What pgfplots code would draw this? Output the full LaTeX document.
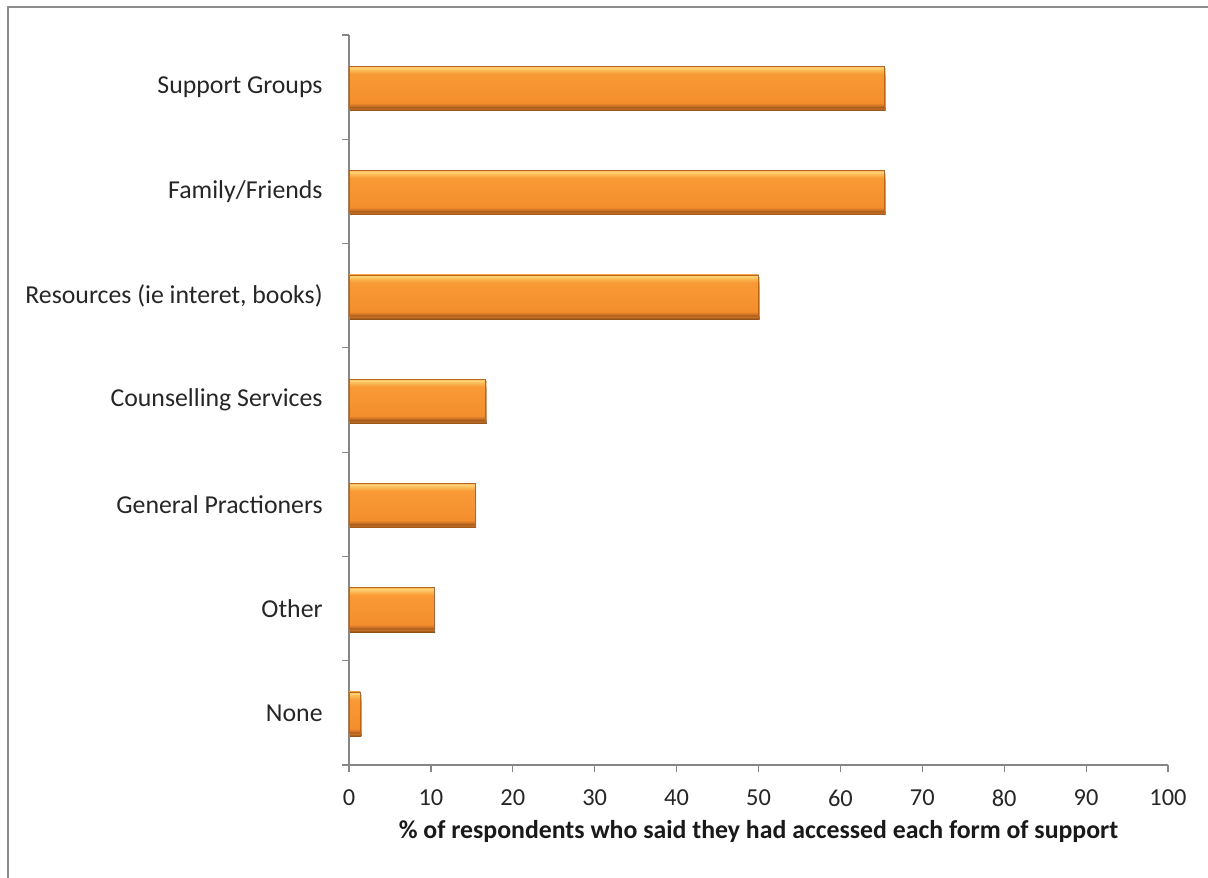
\documentclass[border=0pt]{standalone}
\usepackage{pgfplots}
\pgfplotsset{compat=1.18}
\usepackage{fontspec}
\setmainfont{Carlito}
\definecolor{axgray}{HTML}{868686}
\definecolor{framegray}{HTML}{8C8C8C}
\definecolor{bdark}{HTML}{8E5018}
\definecolor{bdark2}{HTML}{CF7426}
\definecolor{bmid}{HTML}{F48E2D}
\definecolor{bmid2}{HTML}{F89A36}
\definecolor{blight}{HTML}{FBB652}
\definecolor{blight2}{HTML}{FDD477}
\definecolor{bedge}{HTML}{B8651F}
\pgfdeclareverticalshading{barshade}{100bp}{color(0bp)=(bdark); color(25bp)=(bdark); color(28bp)=(bdark2); color(31bp)=(bmid); color(66bp)=(bmid2); color(70bp)=(blight); color(73.5bp)=(blight2); color(75bp)=(blight); color(100bp)=(blight)}
\begin{document}
\begin{tikzpicture}
\path[use as bounding box] (0,0) rectangle (604pt,438.5pt);
\draw[framegray, line width=1pt] (4pt,-10pt) -- (4pt,435pt) -- (615pt,435pt);
\begin{axis}[
  at={(174.5pt,56pt)}, anchor=south west,
  scale only axis, width=409.5pt, height=365pt,
  xmin=0, xmax=100, ymin=-0.5, ymax=6.5,
  xtick={0,10,...,100},
  ytick={-0.5,0.5,...,6.5}, yticklabels={,,,,,,,,},
  extra y ticks={0,1,2,3,4,5,6},
  extra y tick labels={None,Other,General Practioners,Counselling Services,{Resources (ie interet, books)},Family/Friends,Support Groups},
  extra y tick style={major tick length=0pt, yticklabel style={inner sep=0pt, anchor=east, xshift=-13pt, font=\fontsize{12.9}{15}\selectfont}},
  axis x line*=bottom, axis y line*=left,
  axis line style={axgray, line width=0.6pt},
  tick style={axgray, line width=0.6pt},
  tick align=outside, major tick length=3.5pt,
  /pgf/number format/assume math mode=true,
  ticklabel style={font=\fontsize{12.2}{14}\selectfont, text=black!85},
  xticklabel style={yshift=-5.5pt},
  xlabel={\% of respondents who said they had accessed each form of support},
  xlabel style={font=\bfseries\fontsize{12.9}{15}\selectfont, text=black!90, at={(axis description cs:0.5,0)}, anchor=center, yshift=-33pt},
  clip=false,
  mybar/.style={xbar, bar width=0.4, bar shift=0pt, shading=barshade, draw=bedge, line width=0.3pt, mark=none,
    preaction={fill=black!7, draw=none, transform canvas={xshift=0.5pt, yshift=-1.3pt}}},
]
\addplot[mybar] coordinates {(1.4,0)};
\addplot[mybar] coordinates {(10.4,1)};
\addplot[mybar] coordinates {(15.4,2)};
\addplot[mybar] coordinates {(16.7,3)};
\addplot[mybar] coordinates {(50.0,4)};
\addplot[mybar] coordinates {(65.4,5)};
\addplot[mybar] coordinates {(65.4,6)};
\end{axis}
\end{tikzpicture}
\end{document}
